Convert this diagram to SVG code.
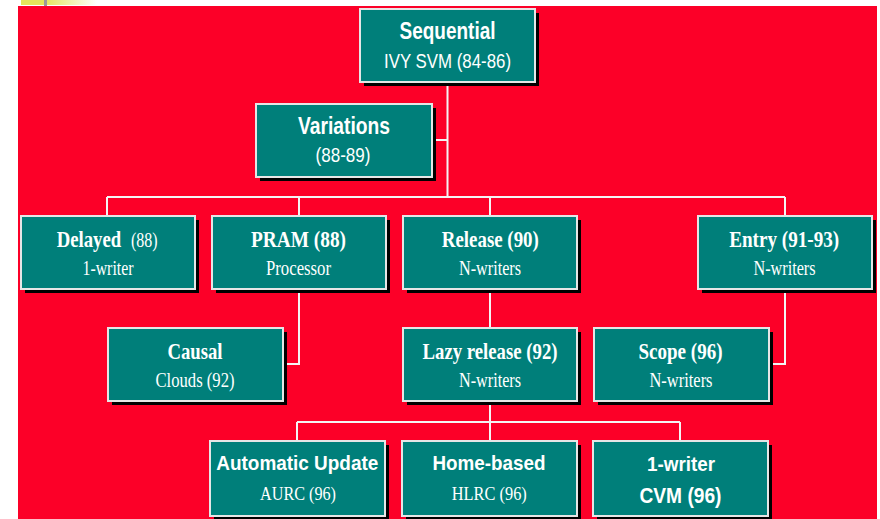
<svg xmlns="http://www.w3.org/2000/svg" width="880" height="519" viewBox="0 0 880 519">
  <defs>
    <linearGradient id="barFade" x1="0" y1="0" x2="1" y2="0">
      <stop offset="0" stop-color="#E4E45C"/>
      <stop offset="0.3" stop-color="#E4E45C"/>
      <stop offset="1" stop-color="#FFFFFF"/>
    </linearGradient>
  </defs>
  <style>
    .box { fill: #007F7A; stroke: #E6E6E6; stroke-width: 2; }
    .shadow { fill: #000000; }
    .link { fill: none; stroke: #F4F4F4; stroke-width: 2; }
    .sans { font-family: "Liberation Sans", Arial, sans-serif; fill: #FFFFFF; }
    .serif { font-family: "Liberation Serif", "Times New Roman", serif; fill: #FFFFFF; }
    .b { font-weight: bold; }
    .mid { text-anchor: middle; }
  </style>

  <!-- page and backdrop -->
  <rect x="0" y="0" width="880" height="519" fill="#FFFFFF"/>
  <rect x="21" y="0" width="76" height="5" fill="url(#barFade)"/>
  <rect x="44" y="0" width="3" height="6" fill="#9A9A9A"/>
  <rect x="18" y="6" width="859" height="513" fill="#FC0028"/>

  <!-- connectors -->
  <g id="connectors" class="link">
    <path d="M447.5 82 V197"/>
    <path d="M432 140 H447.5"/>
    <path d="M107 197 H785"/>
    <path d="M107 197 V216 M299 197 V216 M490 197 V216 M785 197 V216"/>
    <path d="M299 289 V364 H283"/>
    <path d="M490 289 V328"/>
    <path d="M785 289 V364 H769"/>
    <path d="M490 401 V422"/>
    <path d="M297 422 H680"/>
    <path d="M297 422 V441 M490 422 V441 M680 422 V441"/>
  </g>

  <!-- nodes -->
  <g id="sequential">
    <rect class="shadow" x="364" y="13" width="175" height="73"/>
    <rect class="box" x="360" y="9" width="175" height="73"/>
    <text class="sans b mid" x="447.5" y="39" font-size="23" textLength="96" lengthAdjust="spacingAndGlyphs">Sequential</text>
    <text class="sans mid" x="447.5" y="68" font-size="20" textLength="127" lengthAdjust="spacingAndGlyphs">IVY SVM (84-86)</text>
  </g>

  <g id="variations">
    <rect class="shadow" x="260" y="108" width="176" height="73"/>
    <rect class="box" x="256" y="104" width="176" height="73"/>
    <text class="sans b mid" x="344" y="134" font-size="23" textLength="92" lengthAdjust="spacingAndGlyphs">Variations</text>
    <text class="sans mid" x="343" y="162" font-size="21" textLength="55" lengthAdjust="spacingAndGlyphs">(88-89)</text>
  </g>

  <g id="delayed">
    <rect class="shadow" x="25" y="220" width="174" height="73"/>
    <rect class="box" x="21" y="216" width="174" height="73"/>
    <text class="serif" transform="translate(56.7 247) scale(0.78 1)"><tspan class="b" x="0" y="0" font-size="24">Delayed</tspan><tspan x="95.3" y="0" font-size="20.5">(88)</tspan></text>
    <text class="serif mid" x="108" y="275" font-size="20" textLength="51" lengthAdjust="spacingAndGlyphs">1-writer</text>
  </g>

  <g id="pram">
    <rect class="shadow" x="216" y="220" width="174" height="73"/>
    <rect class="box" x="212" y="216" width="174" height="73"/>
    <text class="serif b mid" x="298.5" y="247" font-size="24" textLength="95" lengthAdjust="spacingAndGlyphs">PRAM (88)</text>
    <text class="serif mid" x="298.5" y="275" font-size="20" textLength="65" lengthAdjust="spacingAndGlyphs">Processor</text>
  </g>

  <g id="release">
    <rect class="shadow" x="407" y="220" width="174" height="73"/>
    <rect class="box" x="403" y="216" width="174" height="73"/>
    <text class="serif b mid" x="490.3" y="247" font-size="24" textLength="97" lengthAdjust="spacingAndGlyphs">Release (90)</text>
    <text class="serif mid" x="490" y="275" font-size="20" textLength="62" lengthAdjust="spacingAndGlyphs">N-writers</text>
  </g>

  <g id="entry">
    <rect class="shadow" x="702" y="220" width="174" height="73"/>
    <rect class="box" x="698" y="216" width="174" height="73"/>
    <text class="serif b mid" x="784.2" y="247" font-size="24" textLength="110" lengthAdjust="spacingAndGlyphs">Entry (91-93)</text>
    <text class="serif mid" x="784.5" y="275" font-size="20" textLength="62" lengthAdjust="spacingAndGlyphs">N-writers</text>
  </g>

  <g id="causal">
    <rect class="shadow" x="112" y="332" width="175" height="73"/>
    <rect class="box" x="108" y="328" width="175" height="73"/>
    <text class="serif b mid" x="195" y="359" font-size="24" textLength="55" lengthAdjust="spacingAndGlyphs">Causal</text>
    <text class="serif mid" x="195" y="387" font-size="20" textLength="79" lengthAdjust="spacingAndGlyphs">Clouds (92)</text>
  </g>

  <g id="lazy-release">
    <rect class="shadow" x="407" y="332" width="174" height="73"/>
    <rect class="box" x="403" y="328" width="174" height="73"/>
    <text class="serif b mid" x="490" y="359" font-size="24" textLength="135" lengthAdjust="spacingAndGlyphs">Lazy release (92)</text>
    <text class="serif mid" x="490" y="387" font-size="20" textLength="62" lengthAdjust="spacingAndGlyphs">N-writers</text>
  </g>

  <g id="scope">
    <rect class="shadow" x="598" y="332" width="175" height="73"/>
    <rect class="box" x="594" y="328" width="175" height="73"/>
    <text class="serif b mid" x="680.5" y="359" font-size="24" textLength="84" lengthAdjust="spacingAndGlyphs">Scope (96)</text>
    <text class="serif mid" x="681" y="387" font-size="20" textLength="63" lengthAdjust="spacingAndGlyphs">N-writers</text>
  </g>

  <g id="automatic-update">
    <rect class="shadow" x="214" y="445" width="175" height="75"/>
    <rect class="box" x="210" y="441" width="175" height="75"/>
    <text class="sans b mid" x="297.3" y="470" font-size="21" textLength="162" lengthAdjust="spacingAndGlyphs">Automatic Update</text>
    <text class="serif mid" x="298" y="500" font-size="19" textLength="76" lengthAdjust="spacingAndGlyphs">AURC (96)</text>
  </g>

  <g id="home-based">
    <rect class="shadow" x="406" y="445" width="175" height="75"/>
    <rect class="box" x="402" y="441" width="175" height="75"/>
    <text class="sans b mid" x="489" y="470" font-size="21" textLength="113" lengthAdjust="spacingAndGlyphs">Home-based</text>
    <text class="serif mid" x="489.3" y="500" font-size="19" textLength="75" lengthAdjust="spacingAndGlyphs">HLRC (96)</text>
  </g>

  <g id="one-writer-cvm">
    <rect class="shadow" x="597" y="445" width="175" height="75"/>
    <rect class="box" x="593" y="441" width="175" height="75"/>
    <text class="sans b mid" x="681" y="471" font-size="21" textLength="68" lengthAdjust="spacingAndGlyphs">1-writer</text>
    <text class="sans b mid" x="680.5" y="503" font-size="22" textLength="82" lengthAdjust="spacingAndGlyphs">CVM (96)</text>
  </g>
</svg>
